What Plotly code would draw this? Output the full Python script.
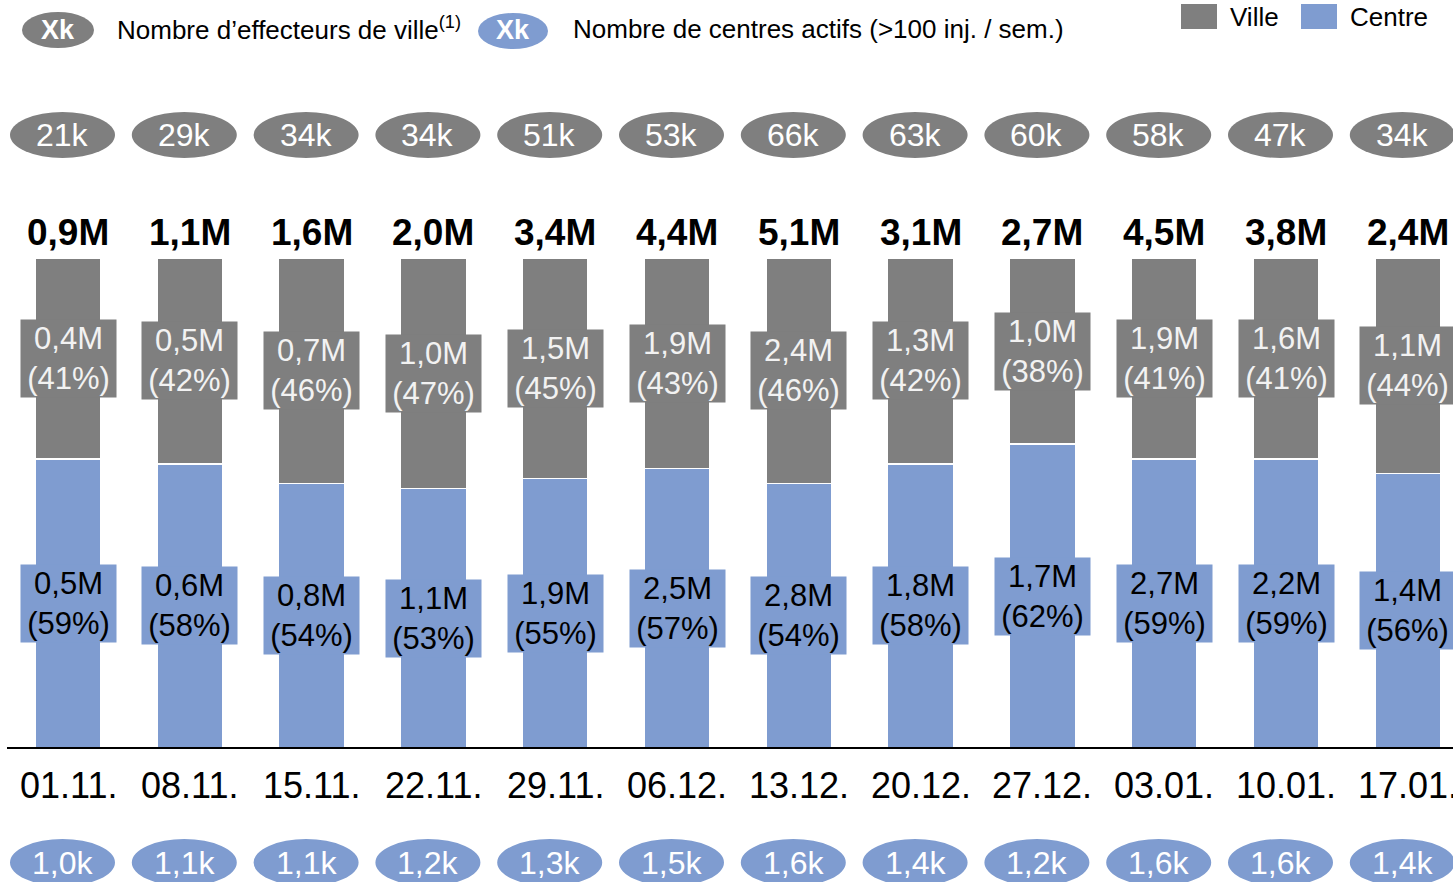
import plotly.graph_objects as go

# ---------------- data ----------------
dates = ["01.11.", "08.11.", "15.11.", "22.11.", "29.11.", "06.12.",
         "13.12.", "20.12.", "27.12.", "03.01.", "10.01.", "17.01."]
total_m = [0.9, 1.1, 1.6, 2.0, 3.4, 4.4, 5.1, 3.1, 2.7, 4.5, 3.8, 2.4]
ville_m = [0.4, 0.5, 0.7, 1.0, 1.5, 1.9, 2.4, 1.3, 1.0, 1.9, 1.6, 1.1]
ville_pct = [41, 42, 46, 47, 45, 43, 46, 42, 38, 41, 41, 44]
centre_m = [0.5, 0.6, 0.8, 1.1, 1.9, 2.5, 2.8, 1.8, 1.7, 2.7, 2.2, 1.4]
centre_pct = [59, 58, 54, 53, 55, 57, 54, 58, 62, 59, 59, 56]
effecteurs_k = [21, 29, 34, 34, 51, 53, 66, 63, 60, 58, 47, 34]
centres_actifs_k = [1.0, 1.1, 1.1, 1.2, 1.3, 1.5, 1.6, 1.4, 1.2, 1.6, 1.6, 1.4]

# ---------------- style ----------------
GRAY = "#7f7f7f"
BLUE = "#7f9cd0"
FONT = "Liberation Sans, Arial, sans-serif"
W, H = 1453, 882
PX_X = 121.8          # pixels per category
X0_PX = 68            # pixel of first category
BASE_PX = 748         # baseline pixel
PX_Y = 4.9            # pixels per percent


def fr(v):
    return f"{v:.1f}".replace(".", ",")


def yv(py):
    return (BASE_PX - py) / PX_Y


fig = go.Figure()
fig.add_trace(go.Bar(
    x=dates, y=centre_pct, name="Centre", marker_color=BLUE,
    marker_line=dict(color="white", width=1.5), width=0.542,
    hoverinfo="skip"))
fig.add_trace(go.Bar(
    x=dates, y=ville_pct, name="Ville", marker_color=GRAY,
    marker_line=dict(color="white", width=1.5), width=0.542,
    hoverinfo="skip"))

ann = []
shapes = []
dx = -5.5 / PX_X
for i, d in enumerate(dates):
    # total
    ann.append(dict(x=d, y=yv(232), text=f"<b>{fr(total_m[i])}M</b>",
                    showarrow=False, font=dict(size=37, color="black", family=FONT),
                    xanchor="center", yanchor="middle"))
    # ville label
    ann.append(dict(x=d, y=centre_pct[i] + ville_pct[i] / 2,
                    text=f"{fr(ville_m[i])}M<br>({ville_pct[i]}%)",
                    showarrow=False, bgcolor=GRAY, width=93, borderpad=1,
                    font=dict(size=31, color="#f2f2f2", family=FONT),
                    xanchor="center", yanchor="middle"))
    # centre label
    ann.append(dict(x=d, y=centre_pct[i] / 2,
                    text=f"{fr(centre_m[i])}M<br>({centre_pct[i]}%)",
                    showarrow=False, bgcolor=BLUE, width=93, borderpad=1,
                    font=dict(size=31, color="black", family=FONT),
                    xanchor="center", yanchor="middle"))
    # date
    ann.append(dict(x=d, y=yv(785), text=d, showarrow=False,
                    font=dict(size=36, color="black", family=FONT),
                    xanchor="center", yanchor="middle"))
    # top ellipse (effecteurs)
    shapes.append(dict(type="circle", xref="x", yref="y",
                       x0=i + dx - 52.5 / PX_X, x1=i + dx + 52.5 / PX_X,
                       y0=yv(158), y1=yv(112), fillcolor=GRAY, line_width=0,
                       layer="above"))
    ann.append(dict(x=d, y=yv(135), xshift=-5.5, text=f"{effecteurs_k[i]}k",
                    showarrow=False, font=dict(size=32, color="white", family=FONT),
                    xanchor="center", yanchor="middle"))
    # bottom ellipse (centres actifs)
    shapes.append(dict(type="circle", xref="x", yref="y",
                       x0=i + dx - 52.5 / PX_X, x1=i + dx + 52.5 / PX_X,
                       y0=yv(886), y1=yv(839), fillcolor=BLUE, line_width=0,
                       layer="above"))
    ann.append(dict(x=d, y=yv(863), xshift=-5.5, text=f"{fr(centres_actifs_k[i])}k",
                    showarrow=False, font=dict(size=32, color="white", family=FONT),
                    xanchor="center", yanchor="middle"))

# baseline
shapes.append(dict(type="line", xref="paper", yref="y", x0=7 / W, x1=1,
                   y0=0, y1=0, line=dict(color="black", width=2), layer="above"))


def px(xp):
    return xp / W


def py(yp):
    return 1 - yp / H


# top-left legend
shapes.append(dict(type="circle", xref="paper", yref="paper",
                   x0=px(22), x1=px(94), y0=py(48), y1=py(12),
                   fillcolor=GRAY, line_width=0))
ann.append(dict(xref="paper", yref="paper", x=px(58), y=py(30), text="<b>Xk</b>",
                showarrow=False, font=dict(size=27, color="white", family=FONT),
                xanchor="center", yanchor="middle"))
ann.append(dict(xref="paper", yref="paper", x=px(115), y=py(29),
                text="Nombre d’effecteurs de ville<sup>(1)</sup>",
                showarrow=False, font=dict(size=26, color="black", family=FONT),
                xanchor="left", yanchor="middle"))
shapes.append(dict(type="circle", xref="paper", yref="paper",
                   x0=px(478), x1=px(548), y0=py(49), y1=py(13),
                   fillcolor=BLUE, line_width=0))
ann.append(dict(xref="paper", yref="paper", x=px(513), y=py(30), text="<b>Xk</b>",
                showarrow=False, font=dict(size=27, color="white", family=FONT),
                xanchor="center", yanchor="middle"))
ann.append(dict(xref="paper", yref="paper", x=px(571), y=py(29),
                text="Nombre de centres actifs (&gt;100 inj. / sem.)",
                showarrow=False, font=dict(size=26, color="black", family=FONT),
                xanchor="left", yanchor="middle"))

# top-right legend
shapes.append(dict(type="rect", xref="paper", yref="paper",
                   x0=px(1181), x1=px(1217), y0=py(29), y1=py(4),
                   fillcolor=GRAY, line_width=0))
ann.append(dict(xref="paper", yref="paper", x=px(1228), y=py(17), text="Ville",
                showarrow=False, font=dict(size=26, color="black", family=FONT),
                xanchor="left", yanchor="middle"))
shapes.append(dict(type="rect", xref="paper", yref="paper",
                   x0=px(1301), x1=px(1337), y0=py(29), y1=py(4),
                   fillcolor=BLUE, line_width=0))
ann.append(dict(xref="paper", yref="paper", x=px(1348), y=py(17), text="Centre",
                showarrow=False, font=dict(size=26, color="black", family=FONT),
                xanchor="left", yanchor="middle"))

fig.update_layout(
    width=W, height=H, autosize=False,
    margin=dict(l=0, r=0, t=0, b=0, pad=0),
    paper_bgcolor="white", plot_bgcolor="white",
    barmode="stack", showlegend=False,
    font=dict(family=FONT),
    xaxis=dict(type="category", range=[-X0_PX / PX_X, (W - X0_PX) / PX_X],
               showticklabels=False, showgrid=False, zeroline=False,
               showline=False, ticks="", fixedrange=True),
    yaxis=dict(range=[yv(H), yv(0)], showticklabels=False, showgrid=False,
               zeroline=False, showline=False, ticks="", fixedrange=True),
    annotations=ann, shapes=shapes,
)

fig.write_html("out.html", config={"displayModeBar": False},
               post_script="document.body.style.margin='0';document.body.style.overflow='hidden';")
